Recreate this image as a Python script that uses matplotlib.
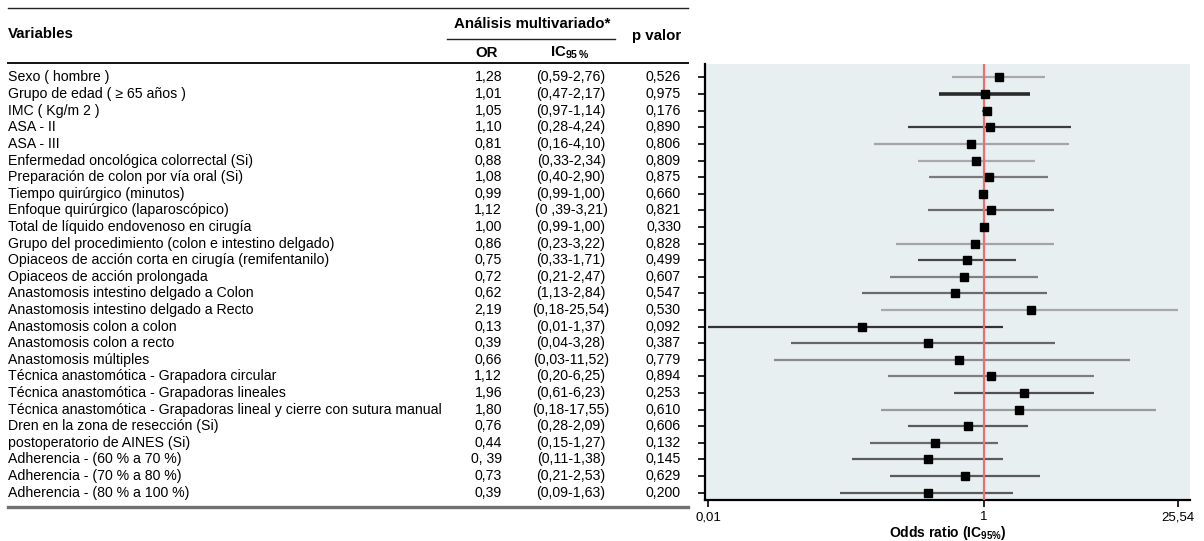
import numpy as np
import matplotlib
matplotlib.use("Agg")
import matplotlib.pyplot as plt

plt.rcParams['font.family'] = ['Liberation Sans', 'DejaVu Sans']
plt.rcParams['mathtext.fontset'] = 'custom'
plt.rcParams['mathtext.rm'] = 'Liberation Sans'
plt.rcParams['mathtext.bf'] = 'Liberation Sans:bold'

variables = [
    "Sexo ( hombre )",
    "Grupo de edad ( \u2265 65 años )",
    "IMC ( Kg/m 2 )",
    "ASA - II",
    "ASA - III",
    "Enfermedad oncológica colorrectal (Si)",
    "Preparación de colon por vía oral (Si)",
    "Tiempo quirúrgico (minutos)",
    "Enfoque quirúrgico (laparoscópico)",
    "Total de líquido endovenoso en cirugía",
    "Grupo del procedimiento (colon e intestino delgado)",
    "Opiaceos de acción corta en cirugía (remifentanilo)",
    "Opiaceos de acción prolongada",
    "Anastomosis intestino delgado a Colon",
    "Anastomosis intestino delgado a Recto",
    "Anastomosis colon a colon",
    "Anastomosis colon a recto",
    "Anastomosis múltiples",
    "Técnica anastomótica - Grapadora circular",
    "Técnica anastomótica - Grapadoras lineales",
    "Técnica anastomótica - Grapadoras lineal y cierre con sutura manual",
    "Dren en la zona de resección (Si)",
    "postoperatorio de AINES (Si)",
    "Adherencia - (60 % a 70 %)",
    "Adherencia - (70 % a 80 %)",
    "Adherencia - (80 % a 100 %)",
]
or_labels = ["1,28", "1,01", "1,05", "1,10", "0,81", "0,88", "1,08", "0,99", "1,12",
             "1,00", "0,86", "0,75", "0,72", "0,62", "2,19", "0,13", "0,39", "0,66",
             "1,12", "1,96", "1,80", "0,76", "0,44", "0, 39", "0,73", "0,39"]
ci_labels = ["(0,59-2,76)", "(0,47-2,17)", "(0,97-1,14)", "(0,28-4,24)", "(0,16-4,10)",
             "(0,33-2,34)", "(0,40-2,90)", "(0,99-1,00)", "(0 ,39-3,21)", "(0,99-1,00)",
             "(0,23-3,22)", "(0,33-1,71)", "(0,21-2,47)", "(1,13-2,84)", "(0,18-25,54)",
             "(0,01-1,37)", "(0,04-3,28)", "(0,03-11,52)", "(0,20-6,25)", "(0,61-6,23)",
             "(0,18-17,55)", "(0,28-2,09)", "(0,15-1,27)", "(0,11-1,38)", "(0,21-2,53)",
             "(0,09-1,63)"]
p_labels = ["0,526", "0,975", "0,176", "0,890", "0,806", "0,809", "0,875", "0,660",
            "0,821", "0,330", "0,828", "0,499", "0,607", "0,547", "0,530", "0,092",
            "0,387", "0,779", "0,894", "0,253", "0,610", "0,606", "0,132", "0,145",
            "0,629", "0,200"]

or_vals = [1.28, 1.01, 1.05, 1.10, 0.81, 0.88, 1.08, 0.99, 1.12, 1.00, 0.86, 0.75, 0.72,
           0.62, 2.19, 0.13, 0.39, 0.66, 1.12, 1.96, 1.80, 0.76, 0.44, 0.39, 0.73, 0.39]
ci_low = [0.59, 0.47, 0.97, 0.28, 0.16, 0.33, 0.40, 0.99, 0.39, 0.99, 0.23, 0.33, 0.21,
          0.13, 0.18, 0.01, 0.04, 0.03, 0.20, 0.61, 0.18, 0.28, 0.15, 0.11, 0.21, 0.09]
ci_high = [2.76, 2.17, 1.14, 4.24, 4.10, 2.34, 2.90, 1.00, 3.21, 1.00, 3.22, 1.71, 2.47,
           2.84, 25.54, 1.37, 3.28, 11.52, 6.25, 6.23, 17.55, 2.09, 1.27, 1.38, 2.53, 1.63]

x_ticks = [0.01, 1, 25.54]
x_ticklabels = ["0,01", "1", "25,54"]

# shade of each confidence line (as drawn in the original)
line_shades = ['#a8a8a8', '#2a2a2a', '#555555', '#3c3c3c', '#a4a4a4', '#aaaaaa', '#7a7a7a',
               '#555555', '#6a6a6a', '#555555', '#a4a4a4', '#474747', '#808080', '#6a6a6a',
               '#a8a8a8', '#333333', '#666666', '#8a8a8a', '#7e7e7e', '#505050', '#9a9a9a',
               '#5a5a5a', '#6a6a6a', '#5a5a5a', '#5a5a5a', '#5a5a5a']

W, H = 1204, 541
fig = plt.figure(figsize=(W / 100, H / 100), dpi=100)

def fx(px):
    return px / W

def fy(py):
    return 1 - py / H

rows = np.arange(len(variables))
ylim = (25.45, -0.813)

# ---- forest plot ----
ax = fig.add_axes([fx(705), fy(500), fx(1190) - fx(705), fy(64) - fy(500)])
ax.set_facecolor('#e8eff1')
ax.set_xscale('log')
for i in rows:
    lw = 2.6 if i == 1 else 1.6
    ax.plot([ci_low[i], ci_high[i]], [i, i], color=line_shades[i], lw=lw,
            solid_capstyle='butt', zorder=2)
ax.axvline(1, color='#e8706f', lw=1.6, zorder=3)
ax.plot(or_vals, rows, 's', color='black', ms=6.2, zorder=4)
ax.set_xlim(0.00951, 31.1)
ax.set_ylim(*ylim)
ax.set_xticks(x_ticks)
ax.set_xticklabels(x_ticklabels, fontsize=9.5)
ax.xaxis.set_minor_locator(matplotlib.ticker.NullLocator())
ax.set_yticks(rows)
ax.set_yticklabels([])
ax.tick_params(axis='y', length=5, width=1.2, direction='out')
ax.tick_params(axis='x', length=5, width=1.2, direction='out', pad=3)
for s in ['top', 'right']:
    ax.spines[s].set_visible(False)
for s in ['left', 'bottom']:
    ax.spines[s].set_linewidth(1.6)
ax.set_xlabel(r"Odds ratio (IC$_{\mathbf{95\%}}$)", fontsize=10, fontweight='bold',
              labelpad=1)

# ---- table ----
tab = fig.add_axes([0, fy(500), fx(705), fy(64) - fy(500)])
tab.set_xlim(0, 705)
tab.set_ylim(*ylim)
tab.axis('off')
fs = 10.2
for i in rows:
    tab.text(8, i, variables[i], fontsize=fs, va='center', ha='left')
    tab.text(502, i, or_labels[i], fontsize=fs, va='center', ha='right')
    tab.text(571, i, ci_labels[i], fontsize=fs, va='center', ha='center')
    tab.text(681, i, p_labels[i], fontsize=fs, va='center', ha='right')

# headers and rules
hfs = 10.8
fig.text(fx(8), fy(34), "Variables", fontsize=hfs, fontweight='bold', va='center')
fig.text(fx(532), fy(24), "Análisis multivariado*", fontsize=hfs, fontweight='bold',
         va='center', ha='center')
fig.text(fx(657), fy(36), "p valor", fontsize=hfs, fontweight='bold', va='center', ha='center')
fig.text(fx(487), fy(53), "OR", fontsize=hfs, fontweight='bold', va='center', ha='center')
fig.text(fx(570), fy(53), r"IC$_{\mathbf{95\,\%}}$", fontsize=hfs, fontweight='bold',
         va='center', ha='center')

fig.add_artist(plt.Line2D([fx(8), fx(688)], [fy(8), fy(8)], color='#222222', lw=1.0))
fig.add_artist(plt.Line2D([fx(447), fx(615)], [fy(39), fy(39)], color='#222222', lw=1.0))
fig.add_artist(plt.Line2D([fx(8), fx(688)], [fy(63), fy(63)], color='#111111', lw=1.4))
fig.add_artist(plt.Line2D([fx(8), fx(688)], [fy(507), fy(507)], color='#707070', lw=2.4))

fig.savefig("out.png", dpi=100)
